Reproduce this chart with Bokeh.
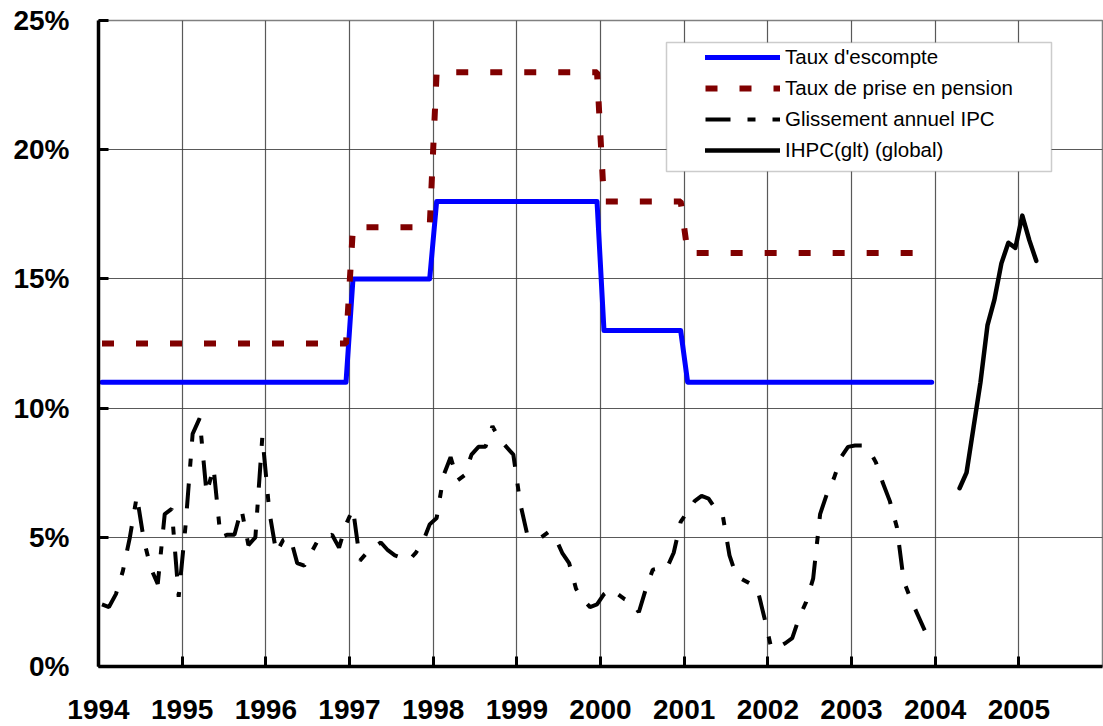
from bokeh.plotting import figure
from bokeh.models import (Range1d, FixedTicker, PrintfTickFormatter, Legend,
                          LegendItem, BoxAnnotation)
from bokeh.embed import file_html
from bokeh.resources import INLINE

# ---------------- data (monthly, Jan 1994 onwards) ----------------
start_year = 1994

# Taux d'escompte (%), Jan 1994 - Dec 2003
taux_escompte = [11.0] * 36 + [15.0] * 12 + [18.0] * 24 + [13.0] * 12 + [11.0] * 36

# Taux de prise en pension (%), Jan 1994 - Dec 2003
taux_pension = [12.5] * 36 + [17.0] * 12 + [23.0] * 24 + [18.0] * 12 + [16.0] * 36

# Glissement annuel IPC (%), Jan 1994 - Nov 2003
ipc_1994 = [2.4, 2.3, 2.8, 3.7, 5.0, 6.6, 4.9, 3.8, 3.2, 5.9, 6.1, 2.7]
ipc_1995 = [5.5, 9.0, 9.6, 6.7, 7.7, 5.0, 5.1, 5.1, 6.1, 4.7, 5.0, 8.9]
ipc_1996 = [6.0, 4.4, 4.9, 5.0, 4.0, 3.9, 4.4, 4.9, 5.0, 5.1, 4.6, 5.5]
ipc_1997 = [6.1, 4.1, 4.4, 4.6, 4.8, 4.5, 4.3, 4.2, 4.1, 4.4, 4.8, 5.5]
ipc_1998 = [5.75, 7.4, 8.1, 7.2, 7.4, 8.2, 8.5, 8.5, 9.3, 8.8, 8.5, 8.2]
ipc_1999 = [6.3, 5.1, 5.0, 5.0, 5.2, 5.0, 4.4, 4.0, 3.0, 2.6, 2.3, 2.4]
ipc_2000 = [2.8, 3.0, 2.8, 2.6, 2.5, 2.1, 3.0, 3.75, 3.8, 3.8, 4.4, 5.6]
ipc_2001 = [6.0, 6.4, 6.6, 6.5, 6.1, 5.9, 4.3, 3.5, 3.35, 3.2, 3.0, 1.9]
ipc_2002 = [0.7, 0.75, 0.9, 1.1, 1.9, 2.5, 3.4, 5.9, 6.7, 7.3, 8.1, 8.5]
ipc_2003 = [8.55, 8.55, 8.4, 7.9, 7.1, 6.4, 5.4, 3.3, 2.6, 2.0, 1.4]
ipc = ipc_1994 + ipc_1995 + ipc_1996 + ipc_1997 + ipc_1998 + ipc_1999 \
    + ipc_2000 + ipc_2001 + ipc_2002 + ipc_2003

# IHPC (glissement) global (%), Apr 2004 - Mar 2005
ihpc_first_month = 123   # months after Jan 1994 (April 2004)
ihpc = [6.9, 7.5, 9.25, 11.0, 13.2, 14.2, 15.6, 16.4, 16.2, 17.45, 16.5, 15.7]

year_ticks = list(range(1994, 2006))
grid_years = list(range(1994, 2007))
pct_ticks = [0, 5, 10, 15, 20, 25]

series_names = ["Taux d'escompte", "Taux de prise en pension",
                "Glissement annuel IPC", "IHPC(glt) (global)"]


def month_x(i):
    return start_year + (i + 0.5) / 12.0


x_rates = [month_x(i) for i in range(len(taux_escompte))]
x_ipc = [month_x(i) for i in range(len(ipc))]
x_ihpc = [month_x(ihpc_first_month + i) for i in range(len(ihpc))]

# ---------------- figure ----------------
FONT = "Liberation Sans"

p = figure(width=1103, height=726,
           x_range=Range1d(1994, 2006), y_range=Range1d(0, 25),
           output_backend="svg", toolbar_location=None,
           min_border_left=98, min_border_right=1,
           min_border_top=20, min_border_bottom=60)
p.background_fill_color = "white"
p.border_fill_color = "white"
p.outline_line_color = "#808080"
p.outline_line_width = 1.5

# grid
p.xgrid.ticker = FixedTicker(ticks=grid_years)
p.ygrid.ticker = FixedTicker(ticks=pct_ticks)
for g in (p.xgrid, p.ygrid):
    g.grid_line_color = "#3c3c3c"
    g.grid_line_width = 1.2
    g.grid_line_alpha = 0.85

# axes
p.yaxis.ticker = FixedTicker(ticks=pct_ticks)
p.yaxis.formatter = PrintfTickFormatter(format="%d%%")
p.xaxis.ticker = FixedTicker(ticks=year_ticks)
p.xaxis.formatter = PrintfTickFormatter(format="%d")
for ax in (p.xaxis, p.yaxis):
    ax.axis_line_color = "black"
    ax.axis_line_width = 3.5
    ax.major_tick_in = 10
    ax.major_tick_out = 0
    ax.major_tick_line_width = 3
    ax.major_tick_line_color = "black"
    ax.minor_tick_line_color = None
    ax.major_label_text_font = FONT
    ax.major_label_text_font_style = "bold"
    ax.major_label_text_font_size = "28px"
    ax.major_label_text_color = "black"
p.yaxis.major_label_standoff = 29
p.xaxis.major_label_standoff = 33

# series
r_esc = p.line(x_rates, taux_escompte, line_color="#0000FF", line_width=5,
               line_join="round", line_cap="round")
r_pen = p.line(x_rates, taux_pension, line_color="#800000", line_width=6,
               line_dash="12 22", line_cap="butt")
r_ipc = p.line(x_ipc, ipc, line_color="black", line_width=4,
               line_dash="25 17 8 17", line_cap="butt")
r_ihpc = p.line(x_ihpc, ihpc, line_color="black", line_width=4.5,
                line_join="round", line_cap="round")

# legend frame
box = BoxAnnotation(left=666, right=1051, top=42, bottom=171,
                    left_units="canvas", right_units="canvas",
                    top_units="canvas", bottom_units="canvas",
                    fill_color="white", fill_alpha=1.0,
                    line_color="#555555", line_width=1.5)
p.add_layout(box)

legend = Legend(items=[LegendItem(label=n, renderers=[r])
                       for n, r in zip(series_names, [r_esc, r_pen, r_ipc, r_ihpc])],
                location=(607, 504), orientation="vertical",
                padding=0, spacing=7, margin=0,
                label_height=24, glyph_height=20, glyph_width=75,
                label_standoff=5,
                label_text_font=FONT, label_text_font_size="20.5px",
                label_text_color="black",
                border_line_color=None, background_fill_alpha=0)
p.add_layout(legend)

open("out.html", "w").write(file_html(p, INLINE))
